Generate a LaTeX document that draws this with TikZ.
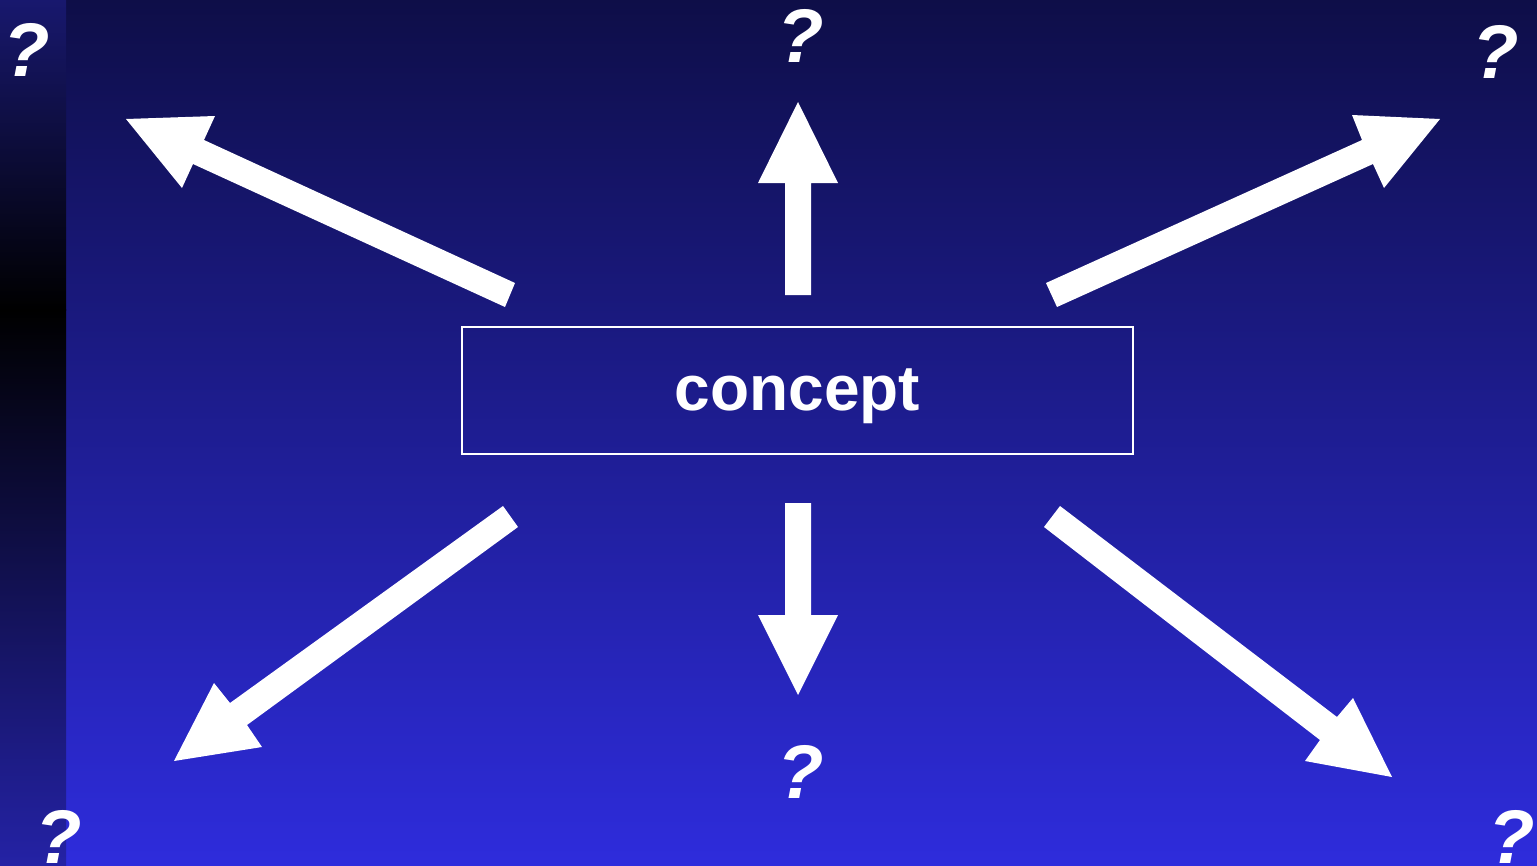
\documentclass[tikz,border=0pt]{standalone}
\usepackage{fontspec}
\setmainfont{Liberation Sans}
\definecolor{bgtop}{RGB}{14,14,72}
\definecolor{bgbot}{RGB}{46,44,220}
\definecolor{striptop}{RGB}{24,24,110}
\definecolor{stripbot}{RGB}{36,34,165}
\begin{document}
\begin{tikzpicture}[x=1pt,y=-1pt,
  qm/.style={text=white,inner sep=0pt,anchor=base,font=\fontsize{76}{76}\selectfont\bfseries\itshape},
  blockarrow/.style={fill=white,draw=none},
  conceptbox/.style={draw=white,line width=2.7pt,minimum width=671pt,minimum height=127pt,inner sep=0pt,text=white,text height=50pt,text depth=11pt,font=\fontsize{64}{64}\selectfont\bfseries}]
\useasboundingbox (0,0) rectangle (1537,865);
% background
\shade[top color=bgtop,bottom color=bgbot] (0,0) rectangle (1537,865);
\shade[top color=striptop,bottom color=black] (0,0) rectangle (66,310);
\shade[top color=black,bottom color=stripbot] (0,309.5) rectangle (66,865);
% central concept
\node[conceptbox] (concept) at (797.5,390.5) {concept};
% block arrows
\fill[blockarrow] (785,295) -- (785,183) -- (758,183) -- (798,102) -- (838,183) -- (811,183) -- (811,295) -- cycle;
\fill[blockarrow] (785,503) -- (785,615) -- (758,615) -- (798,695) -- (838,615) -- (811,615) -- (811,503) -- cycle;
\fill[blockarrow] (515,283) -- (204,140) -- (215,116) -- (126,119) -- (182,188) -- (193,164) -- (505,307) -- cycle;
\fill[blockarrow] (1046,283) -- (1362,140) -- (1352,115) -- (1440,119) -- (1384,188) -- (1373,164) -- (1057,307) -- cycle;
\fill[blockarrow] (503,506) -- (230,703) -- (214,683) -- (174,761) -- (262,747) -- (247,725) -- (518,527) -- cycle;
\fill[blockarrow] (1060,506) -- (1337,717) -- (1353,698) -- (1392,777) -- (1305,761) -- (1320,740) -- (1044,527) -- cycle;
% question marks
\node[qm] (qtl) at (27,76) {?};
\node[qm] (qtc) at (801,62) {?};
\node[qm] (qtr) at (1496,78) {?};
\node[qm] (qbc) at (801,798) {?};
\node[qm] (qbl) at (59,863) {?};
\node[qm] (qbr) at (1512,863) {?};
\end{tikzpicture}
\end{document}
